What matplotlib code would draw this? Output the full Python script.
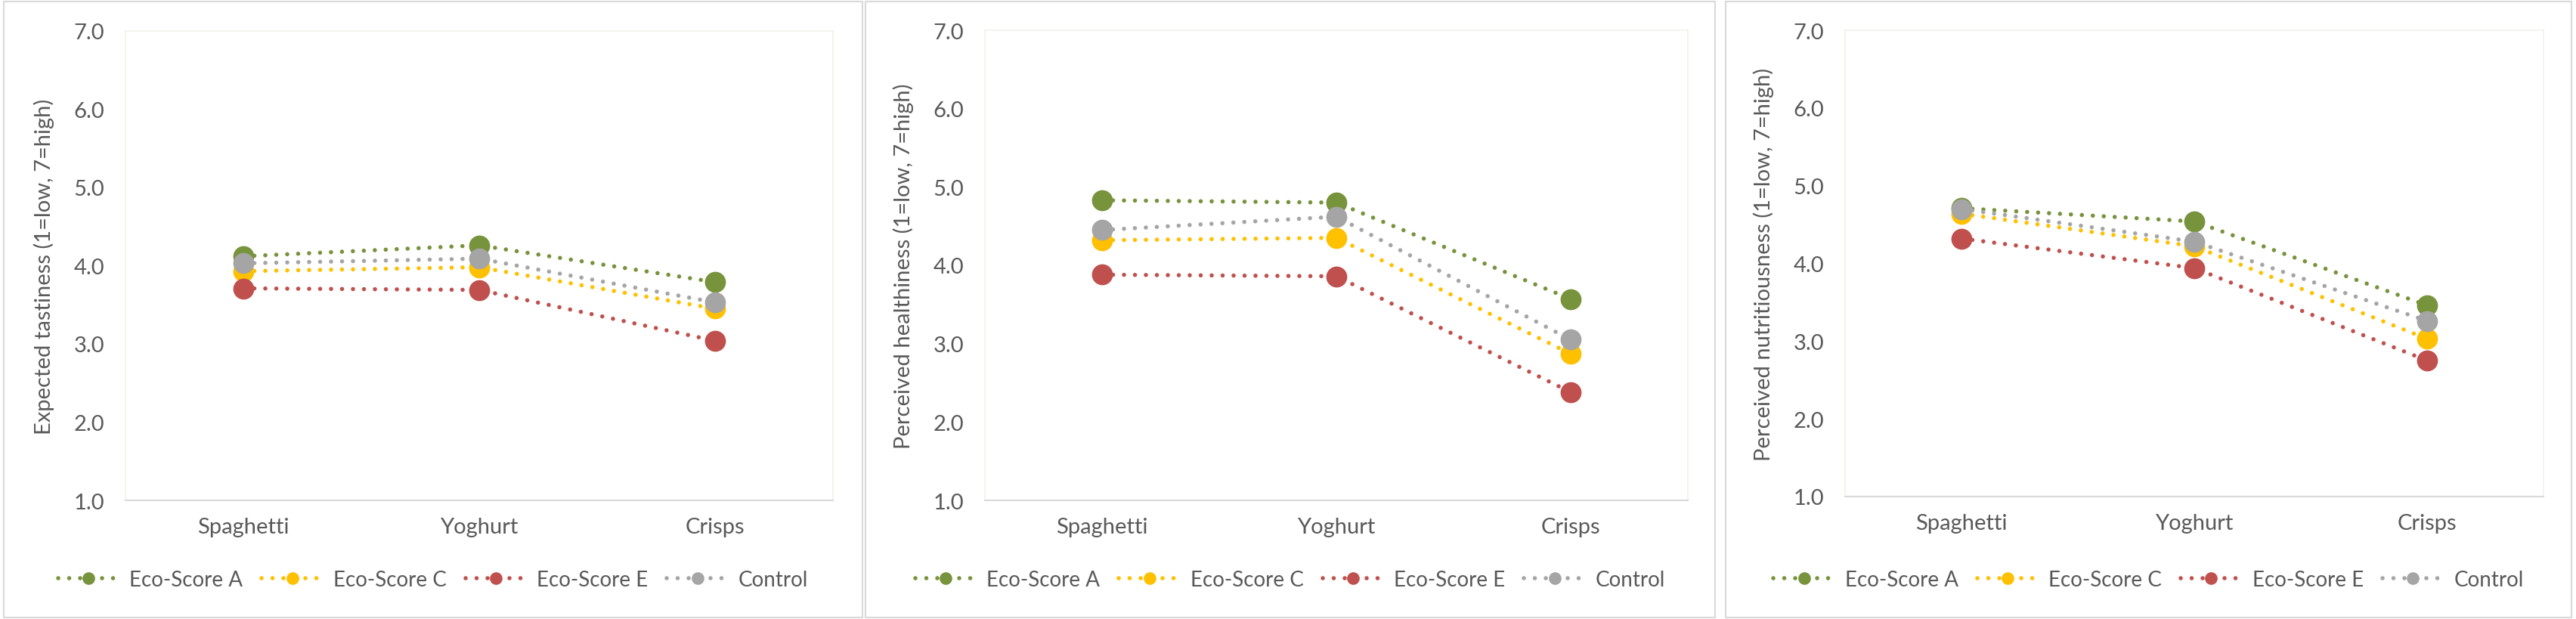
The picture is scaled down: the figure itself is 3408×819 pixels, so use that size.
import matplotlib
matplotlib.use("Agg")
import matplotlib.pyplot as plt
from matplotlib.patches import Rectangle
from matplotlib.ticker import FormatStrFormatter

plt.rcParams['font.family'] = ['Lato', 'DejaVu Sans']

categories = ["Spaghetti", "Yoghurt", "Crisps"]
series_names = ["Eco-Score A", "Eco-Score C", "Eco-Score E", "Control"]
colors = ["#77933C", "#FFC000", "#C0504D", "#A5A5A5"]

# expected tastiness
taste_a = [4.12, 4.26, 3.79]
taste_c = [3.93, 3.98, 3.45]
taste_e = [3.71, 3.69, 3.04]
taste_ctrl = [4.03, 4.09, 3.53]

# perceived healthiness
health_a = [4.83, 4.80, 3.57]
health_c = [4.32, 4.35, 2.87]
health_e = [3.88, 3.86, 2.38]
health_ctrl = [4.45, 4.62, 3.05]

# perceived nutritiousness
nutri_a = [4.71, 4.54, 3.46]
nutri_c = [4.64, 4.22, 3.03]
nutri_e = [4.32, 3.94, 2.75]
nutri_ctrl = [4.70, 4.28, 3.26]

ylabels = ["Expected tastiness (1=low, 7=high)",
           "Perceived healthiness (1=low, 7=high)",
           "Perceived nutritiousness (1=low, 7=high)"]

panels = [
    [taste_a, taste_c, taste_e, taste_ctrl],
    [health_a, health_c, health_e, health_ctrl],
    [nutri_a, nutri_c, nutri_e, nutri_ctrl],
]

W, H = 3408, 820
text_col = "#595959"
fs = 21

# pixel boxes: (outer left, outer right, plot left, plot right, plot top, plot bottom)
boxes = [
    (5, 1141, 166, 1102, 42, 663),
    (1145, 2269, 1303, 2233, 41, 663),
    (2283, 3402, 2441, 3365, 41, 658),
]

fig = plt.figure(figsize=(W / 100, H / 100), dpi=100)

for data, ylab, box in zip(panels, ylabels, boxes):
    ol, orr, pl, pr, pt, pb = box
    fig.patches.append(Rectangle((ol / W, 1 - 818 / H), (orr - ol) / W, (818 - 3) / H,
                                 transform=fig.transFigure, fill=False,
                                 edgecolor="#D9D9D9", lw=1.5))
    ax = fig.add_axes([pl / W, 1 - pb / H, (pr - pl) / W, (pb - pt) / H])
    x = list(range(len(categories)))
    for vals, name, c in zip(data, series_names, colors):
        ax.plot(x, vals, color=c, lw=4, linestyle=(0, (0.01, 2.6)),
                dash_capstyle="round", marker="o", markersize=20,
                markeredgewidth=0, label=name)
    ax.set_xlim(-0.5, 2.5)
    ax.set_ylim(1, 7)
    ax.set_yticks([1, 2, 3, 4, 5, 6, 7])
    ax.yaxis.set_major_formatter(FormatStrFormatter("%.1f"))
    ax.set_xticks(x)
    ax.set_xticklabels(categories)
    ax.tick_params(axis="both", length=0, labelsize=fs, labelcolor=text_col)
    ax.tick_params(axis="y", pad=20)
    ax.tick_params(axis="x", pad=16)
    for side in ["left", "top", "right"]:
        ax.spines[side].set_color("#F2F2EA")
        ax.spines[side].set_linewidth(1.2)
    ax.spines["bottom"].set_color("#D9D9D9")
    ax.spines["bottom"].set_linewidth(1.5)
    ax.set_ylabel(ylab, fontsize=fs, color=text_col)
    ax.yaxis.set_label_coords(-94 / (pr - pl), 0.5)
    ax.legend(loc="center", bbox_to_anchor=((ol + orr) / 2 / W, 1 - 768 / H),
              bbox_transform=fig.transFigure, ncol=4, frameon=False,
              fontsize=20, labelcolor=text_col, markerscale=0.6,
              handlelength=2.9, handletextpad=0.5, columnspacing=0.9)

fig.savefig("out.png", dpi=100, facecolor="white")
